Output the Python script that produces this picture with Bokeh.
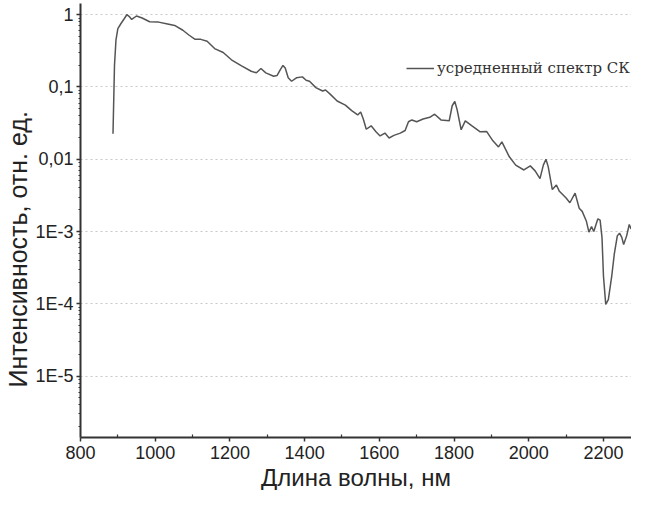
from bokeh.plotting import figure
from bokeh.models import FixedTicker, Range1d, Title
from bokeh.embed import file_html
from bokeh.resources import INLINE

# ---- data ----
wavelength_nm = [
    887, 891, 895, 900, 908, 917, 924, 930, 937, 950,
    965, 985, 1009, 1030, 1052, 1074, 1091, 1107, 1122, 1139,
    1159, 1182, 1204, 1230, 1257, 1271, 1283, 1296, 1317, 1326,
    1335, 1342, 1348, 1356, 1365, 1378, 1394, 1404, 1413, 1430,
    1448, 1456, 1469, 1487, 1509, 1526, 1542, 1550, 1557, 1565,
    1578, 1591, 1602, 1615, 1626, 1639, 1656, 1669, 1678, 1687,
    1700, 1717, 1735, 1748, 1765, 1787, 1795, 1802, 1808, 1819,
    1830, 1848, 1870, 1887, 1904, 1919, 1928, 1939, 1948, 1965,
    1987, 2004, 2017, 2030, 2039, 2046, 2052, 2063, 2074, 2082,
    2100, 2110, 2124, 2135, 2143, 2154, 2161, 2168, 2174, 2185,
    2191, 2196, 2200, 2206, 2213, 2222, 2229, 2237, 2243, 2249,
    2254, 2262, 2269, 2274,
]
intensity = [
    0.0225, 0.2, 0.45, 0.64, 0.75, 0.88, 1.0, 0.95, 0.86, 0.96,
    0.90, 0.80, 0.79, 0.75, 0.71, 0.61, 0.52, 0.456, 0.456, 0.43,
    0.34, 0.30, 0.238, 0.197, 0.165, 0.157, 0.18, 0.157, 0.141, 0.144,
    0.174, 0.199, 0.183, 0.134, 0.12, 0.134, 0.138, 0.124, 0.12, 0.098,
    0.088, 0.091, 0.079, 0.064, 0.056, 0.047, 0.041, 0.045, 0.036, 0.026,
    0.029, 0.024, 0.021, 0.023, 0.0197, 0.0214, 0.023, 0.025, 0.033, 0.035,
    0.033, 0.036, 0.038, 0.042, 0.035, 0.034, 0.055, 0.063, 0.049, 0.0256,
    0.034, 0.029, 0.024, 0.0243, 0.018, 0.0148, 0.0174, 0.0134, 0.0108, 0.0083,
    0.0071, 0.0081, 0.0069, 0.0054, 0.0083, 0.010, 0.0079, 0.0038, 0.0044, 0.0036,
    0.0029, 0.0025, 0.0034, 0.0021, 0.0019, 0.0014, 0.00098, 0.00117, 0.0010, 0.0015,
    0.00144, 0.00083, 0.00024, 0.000098, 0.000114, 0.00024, 0.00049, 0.00087, 0.00095, 0.00083,
    0.00066, 0.00087, 0.00125, 0.00108,
]

x_ticks = [800, 1000, 1200, 1400, 1600, 1800, 2000, 2200]
x_minor_ticks = [900, 1100, 1300, 1500, 1700, 1900, 2100]
y_ticks = [1e-5, 1e-4, 1e-3, 1e-2, 1e-1, 1.0]
y_tick_labels = ["1E-5", "1E-4", "1E-3", "0,01", "0,1", "1"]
series_name = "усредненный спектр СК"
x_title = "Длина волны, нм"
y_title = "Интенсивность, отн. ед."

X_START, X_END = 800, 2275
Y_START, Y_END = 1.41e-6, 1.43

p = figure(
    width=631, height=490,
    x_axis_type="linear", y_axis_type="log",
    x_range=Range1d(X_START, X_END), y_range=Range1d(Y_START, Y_END),
    output_backend="svg", toolbar_location=None,
    min_border_left=74, min_border_right=0, min_border_top=3, min_border_bottom=0,
)
p.outline_line_color = None
p.background_fill_color = "white"
p.border_fill_color = "white"

p.line(wavelength_nm, intensity, line_color="#555555", line_width=1.5,
       legend_label=series_name)

# axes
tick_font = "Liberation Sans"
y_minor = []
for e in range(-6, 1):
    for m in range(2, 10):
        y_minor.append(m * 10.0 ** e)

p.xaxis.ticker = FixedTicker(ticks=x_ticks, minor_ticks=x_minor_ticks)
p.yaxis.ticker = FixedTicker(ticks=y_ticks, minor_ticks=y_minor)
p.yaxis.major_label_overrides = {t: s for t, s in zip(y_ticks, y_tick_labels)}

for ax in (p.xaxis, p.yaxis):
    ax.axis_line_color = "#333333"
    ax.axis_line_width = 2
    ax.major_tick_line_color = "#333333"
    ax.minor_tick_line_color = "#333333"
    ax.major_tick_line_width = 1.5
    ax.minor_tick_line_width = 1.2
    ax.major_label_text_font = tick_font
    ax.major_label_text_font_size = "18px"
    ax.major_label_text_color = "#222222"

p.xaxis.major_tick_out = 4
p.xaxis.major_tick_in = 0
p.xaxis.minor_tick_in = 3
p.xaxis.minor_tick_out = 0
p.xaxis.major_label_standoff = 4

p.yaxis.major_tick_out = 4
p.yaxis.major_tick_in = 0
p.yaxis.minor_tick_out = 2
p.yaxis.minor_tick_in = 0
p.yaxis.major_label_standoff = 3

# axis titles
p.add_layout(Title(
    text=x_title, align="center", standoff=0,
    text_font=tick_font, text_font_size="24px", text_font_style="normal",
    text_color="#222222",
), "below")
p.add_layout(Title(
    text=y_title, align="left", offset=50, standoff=2,
    text_font=tick_font, text_font_size="25px", text_font_style="normal",
    text_color="#222222",
), "left")

# grid
p.xgrid.grid_line_color = None
p.ygrid.ticker = FixedTicker(ticks=y_ticks)
p.ygrid.grid_line_color = "#c8c8c8"
p.ygrid.grid_line_dash = "2 3"
p.ygrid.grid_line_width = 1
p.ygrid.minor_grid_line_color = None

# legend
lg = p.legend[0]
lg.location = (326, 359)
lg.border_line_color = None
lg.background_fill_alpha = 0
lg.padding = 0
lg.margin = 0
lg.spacing = 0
lg.glyph_width = 28
lg.glyph_height = 20
lg.label_height = 20
lg.label_standoff = 3
lg.label_text_font = "DejaVu Serif"
lg.label_text_font_size = "15px"
lg.label_text_color = "#333333"

open("out.html", "w").write(file_html(p, INLINE))
